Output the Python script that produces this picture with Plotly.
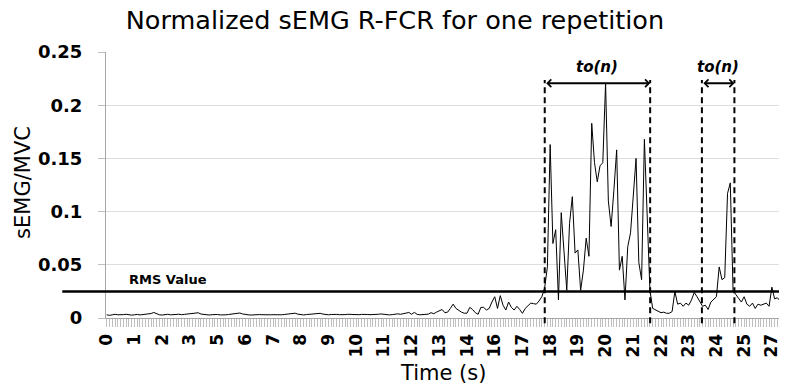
import numpy as np
import plotly.graph_objects as go

# ---- data -------------------------------------------------------------
sample_dt = 0.1125  # seconds between samples (category spacing)

# normalized sEMG values (sEMG / MVC), one per sample
baseline_0_59 = [
    0.003, 0.0025, 0.003, 0.0035, 0.003, 0.0028, 0.0032, 0.0035, 0.003, 0.0027,
    0.003, 0.0034, 0.0029, 0.0031, 0.0036, 0.0033, 0.0042, 0.0052, 0.0038, 0.003,
    0.0028, 0.0032, 0.0035, 0.003, 0.0029, 0.0033, 0.0036, 0.0031, 0.0034, 0.0038,
    0.0035, 0.004, 0.0046, 0.0049, 0.0037, 0.0032, 0.003, 0.0028, 0.0031, 0.0034,
    0.0033, 0.0029, 0.0027, 0.003, 0.0033, 0.0036, 0.0039, 0.0042, 0.0047, 0.0038,
    0.0032, 0.003, 0.0028, 0.0027, 0.003, 0.0032, 0.0031, 0.0029, 0.0028, 0.003,
]
baseline_60_109 = [
    0.0031, 0.0029, 0.0028, 0.003, 0.0033, 0.0035, 0.0037, 0.0041, 0.0045, 0.0036,
    0.0031, 0.0029, 0.0032, 0.0035, 0.0034, 0.0038, 0.0041, 0.0044, 0.0037, 0.0032,
    0.003, 0.0033, 0.0036, 0.0034, 0.0031, 0.0029, 0.0032, 0.0035, 0.0033, 0.003,
    0.0028, 0.0031, 0.0034, 0.0036, 0.0033, 0.0031, 0.003, 0.0033, 0.0035, 0.0038,
    0.0034, 0.003, 0.0029, 0.0032, 0.0036, 0.0039, 0.0035, 0.0037, 0.0046, 0.0052,
]
rising_110_157 = [
    0.0035, 0.0053, 0.0034, 0.003, 0.0032, 0.0031, 0.0036, 0.005, 0.004, 0.0055,
    0.007, 0.008, 0.005, 0.0055, 0.009, 0.013, 0.009, 0.007, 0.0055, 0.0045,
    0.0045, 0.010, 0.008, 0.005, 0.0035, 0.010, 0.010, 0.0075, 0.009, 0.015,
    0.020, 0.009, 0.021, 0.012, 0.0075, 0.015, 0.010, 0.0075, 0.011, 0.008,
    0.0044, 0.009, 0.012, 0.014, 0.0135, 0.013, 0.016, 0.020,
]
burst1_158_196 = [
    0.028, 0.048, 0.163, 0.070, 0.083, 0.017, 0.099, 0.060, 0.026, 0.089,
    0.114, 0.061, 0.064, 0.026, 0.045, 0.075, 0.058, 0.183, 0.146, 0.128,
    0.143, 0.146, 0.221, 0.110, 0.086, 0.120, 0.158, 0.045, 0.058, 0.017,
    0.067, 0.080, 0.114, 0.150, 0.052, 0.036, 0.168, 0.095, 0.026,
]
rest_197_226 = [
    0.009, 0.0075, 0.006, 0.005, 0.0055, 0.0044, 0.0045, 0.006, 0.025, 0.013,
    0.014, 0.011, 0.014, 0.012, 0.017, 0.024, 0.020, 0.016, 0.011, 0.012,
    0.008, 0.015, 0.018, 0.020, 0.048, 0.036, 0.038, 0.117, 0.127, 0.026,
]
tail_227_243 = [
    0.022, 0.018, 0.015, 0.020, 0.013, 0.011, 0.014, 0.009, 0.013, 0.012,
    0.013, 0.014, 0.011, 0.029, 0.018, 0.019, 0.016,
]

x_tick_labels = ["0", "1", "2", "3", "5", "6", "7", "8", "9", "10", "11", "12",
                 "13", "14", "16", "17", "18", "19", "20", "21", "22", "23",
                 "24", "25", "27"]
label_every = 10  # one label every 10 samples

y_tick_values = [0, 0.05, 0.1, 0.15, 0.2, 0.25]
y_tick_labels = ["0", "0.05", "0.1", "0.15", "0.2", "0.25"]

rms_value = 0.025
burst_windows = [(17.78, 22.06), (24.16, 25.48)]  # onset / offset times (s)
window_label = "to(n)"

# ---- build ------------------------------------------------------------
semg = (baseline_0_59 + baseline_60_109 + rising_110_157 + burst1_158_196
        + rest_197_226 + tail_227_243)
time_s = np.arange(len(semg)) * sample_dt
tickvals = [time_s[i * label_every] for i in range(len(x_tick_labels))]

FONT = "DejaVu Sans"
fig = go.Figure()
fig.add_trace(go.Scatter(x=time_s, y=semg, mode="lines",
                         line=dict(color="black", width=1), showlegend=False,
                         hoverinfo="x+y"))

shapes = [dict(type="line", xref="paper", yref="y", x0=-0.065, x1=1,
               y0=rms_value, y1=rms_value, line=dict(color="black", width=2.5))]
annotations = []
arrow_y = 0.2206
for (t0, t1) in burst_windows:
    for t in (t0, t1):
        shapes.append(dict(type="line", xref="x", yref="paper", x0=t, x1=t,
                           y0=-0.02, y1=0.895,
                           line=dict(color="black", width=2, dash="6px,4px")))
    annotations.append(dict(x=t1, y=arrow_y, xref="x", yref="y",
                            ax=t0, ay=arrow_y, axref="x", ayref="y",
                            showarrow=True, arrowside="end+start", arrowhead=4,
                            startarrowhead=4, arrowsize=0.75, startarrowsize=0.75,
                            arrowwidth=2, arrowcolor="black", text=""))
    annotations.append(dict(x=(t0 + t1) / 2, y=0.944, xref="x", yref="paper",
                            text="<b><i>%s</i></b>" % window_label, showarrow=False,
                            font=dict(family=FONT, size=15, color="black"),
                            xanchor="center", yanchor="middle"))

annotations.append(dict(x=0.031, y=0.143, xref="paper", yref="paper",
                        text="<b>RMS Value</b>", showarrow=False,
                        xanchor="left", yanchor="middle",
                        font=dict(family=FONT, size=13, color="black")))
annotations.append(dict(x=-0.1244, y=0.509, xref="paper", yref="paper",
                        text="sEMG/MVC", showarrow=False, textangle=-90,
                        xanchor="center", yanchor="middle",
                        font=dict(family=FONT, size=21, color="black")))
annotations.append(dict(x=0.5, y=-0.207, xref="paper", yref="paper",
                        text="Time (s)", showarrow=False,
                        xanchor="center", yanchor="middle",
                        font=dict(family=FONT, size=21, color="black")))

fig.update_layout(
    width=786, height=392,
    margin=dict(l=106, r=5, t=52, b=74),
    paper_bgcolor="white", plot_bgcolor="white",
    title=dict(text="Normalized sEMG R-FCR for one repetition",
               x=0.5025, y=1 - 20 / 392, xref="container", yref="container",
               xanchor="center", yanchor="middle",
               font=dict(family=FONT, size=25.5, color="black")),
    shapes=shapes, annotations=annotations,
    xaxis=dict(range=[-0.03, 27.29], tickmode="array", tickvals=tickvals,
               ticktext=x_tick_labels, tickangle=-90,
               tickfont=dict(family=FONT, size=17, color="black", weight="bold"),
               ticks="outside", ticklen=8, tickcolor="#bfbfbf", tickwidth=1,
               minor=dict(tickmode="linear", tick0=0, dtick=sample_dt,
                          ticks="outside", ticklen=8, tickcolor="#bfbfbf",
                          tickwidth=1),
               showline=True, linecolor="#a6a6a6", linewidth=1,
               showgrid=False, zeroline=False),
    yaxis=dict(range=[0, 0.25], tickmode="array", tickvals=y_tick_values,
               ticktext=y_tick_labels,
               tickfont=dict(family=FONT, size=18, color="black", weight="bold"),
               ticks="outside", ticklen=7, tickcolor="#bfbfbf",
               ticklabelstandoff=12,
               showline=True, linecolor="#a6a6a6", linewidth=1,
               showgrid=True, gridcolor="#dedede", gridwidth=1, zeroline=False),
)

fig.write_html("out.html", config={"displayModeBar": False})

# remove the browser's default page margin so the chart sits at (0, 0)
with open("out.html", encoding="utf-8") as fh:
    page = fh.read()
page = page.replace("<body>", '<body style="margin:0;padding:0;">', 1)
page = page.replace("<head>", "<head><style>html,body{margin:0;padding:0;overflow:hidden;}</style>", 1)
with open("out.html", "w", encoding="utf-8") as fh:
    fh.write(page)
